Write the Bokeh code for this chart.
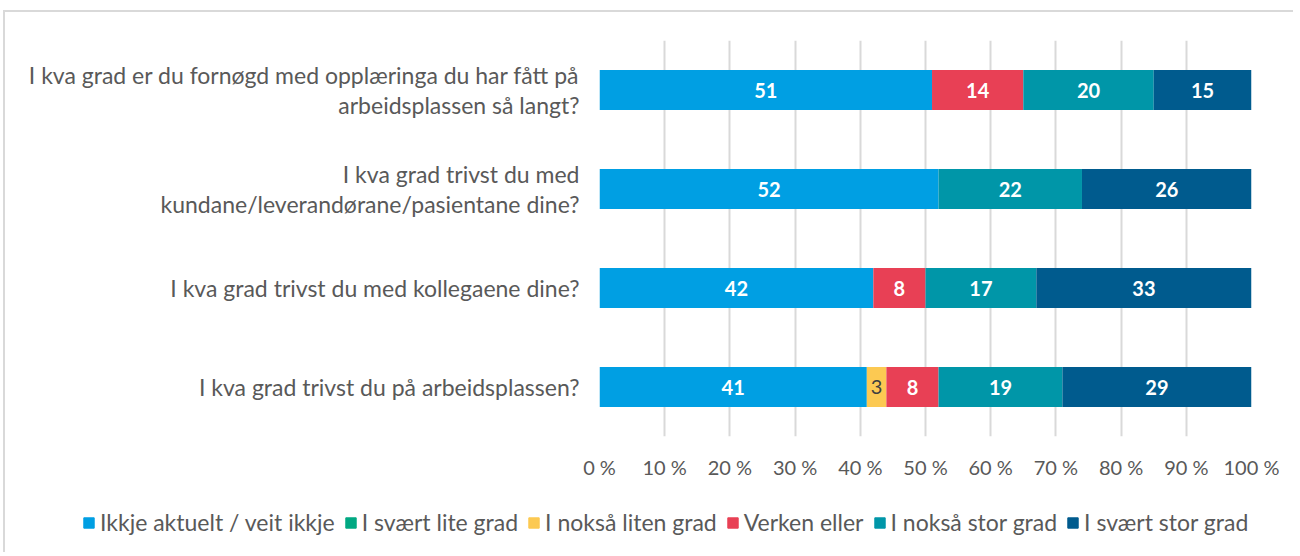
from bokeh.plotting import figure
from bokeh.models import ColumnDataSource, LabelSet, Legend, FactorRange, FixedTicker, CustomJSTickFormatter
from bokeh.embed import file_html
from bokeh.resources import INLINE
from bokeh.core.properties import value

questions = [
    "I kva grad er du fornøgd med opplæringa du har fått på\narbeidsplassen så langt?",
    "I kva grad trivst du med\nkundane/leverandørane/pasientane dine?",
    "I kva grad trivst du med kollegaene dine?",
    "I kva grad trivst du på arbeidsplassen?",
]
series = ["Ikkje aktuelt / veit ikkje", "I svært lite grad", "I nokså liten grad",
          "Verken eller", "I nokså stor grad", "I svært stor grad"]
colors = ["#009FE3", "#00A882", "#FCC952", "#E84055", "#0096A8", "#005B8E"]
ikkje_aktuelt = [51, 52, 42, 41]
svaert_lite = [0, 0, 0, 0]
nokso_liten = [0, 0, 0, 3]
verken_eller = [14, 0, 8, 8]
nokso_stor = [20, 22, 17, 19]
svaert_stor = [15, 26, 33, 29]
x_ticks = [0, 10, 20, 30, 40, 50, 60, 70, 80, 90, 100]

values = [ikkje_aktuelt, svaert_lite, nokso_liten, verken_eller, nokso_stor, svaert_stor]
keys = ["s%d" % i for i in range(len(series))]
data = {"q": questions}
for k, v in zip(keys, values):
    data[k] = v
src = ColumnDataSource(data)

FONT = "Lato"
BORDER = {"margin-top": "10px", "margin-left": "3px",
          "border-top": "2px solid #D9D9D9", "border-left": "2px solid #D9D9D9"}

p = figure(width=1290, height=469, output_backend="svg", toolbar_location=None,
           y_range=FactorRange(*reversed(questions)), x_range=(0, 100),
           min_border_left=594, min_border_right=44, min_border_top=28, min_border_bottom=31)
p.styles = BORDER

renderers = p.hbar_stack(keys, y="q", height=0.405, color=colors, source=src, line_color=None)

# data labels
lx, ly, lt, lc, lw = [], [], [], [], []
for qi, q in enumerate(questions):
    cum = 0
    for si in range(len(series)):
        v = values[si][qi]
        if v > 0:
            lx.append(cum + v / 2)
            ly.append(q)
            lt.append(str(v))
            lc.append("#404040" if si == 2 else "white")
            lw.append("normal" if si == 2 else "bold")
        cum += v
lsrc = ColumnDataSource(dict(x=lx, y=ly, t=lt, c=lc, w=lw))
p.add_layout(LabelSet(x="x", y="y", text="t", source=lsrc, text_align="center", text_baseline="middle",
                      text_color="c", text_font_style="w", text_font_size="20px", text_font=value(FONT)))

p.xaxis.ticker = FixedTicker(ticks=x_ticks)
p.xaxis.formatter = CustomJSTickFormatter(code="return tick + ' %';")
for ax in (p.xaxis, p.yaxis):
    ax.axis_line_color = None
    ax.major_tick_line_color = None
    ax.minor_tick_line_color = None
    ax.major_label_text_color = "#595959"
    ax.major_label_text_font = FONT
p.xaxis.major_label_text_font_size = "20px"
p.yaxis.major_label_text_font_size = "23px"
p.yaxis.major_label_text_line_height = 1.1
p.xaxis.major_label_standoff = 12
p.yaxis.major_label_standoff = 14

p.xgrid.grid_line_color = "#D9D9D9"
p.xgrid.grid_line_width = 2
p.ygrid.grid_line_color = None
p.outline_line_color = None

# legend in a strip below the chart
p2 = figure(width=1290, height=73, output_backend="svg", toolbar_location=None,
            x_range=(0, 1), y_range=(0, 1), min_border=0)
p2.styles = {"margin-left": "3px", "border-left": "2px solid #D9D9D9"}
p2.axis.visible = False
p2.grid.grid_line_color = None
p2.outline_line_color = None
leg_r = [p2.rect(x=[-5], y=[-5], width=1, height=1, color=c) for c in colors]
legend = Legend(items=[(s, [r]) for s, r in zip(series, leg_r)], orientation="horizontal",
                location=(77, 16), label_text_font=FONT, label_text_font_size="23px",
                label_text_color="#595959", glyph_width=13, glyph_height=13, label_standoff=5,
                spacing=9, border_line_color=None, background_fill_alpha=0, padding=0, margin=0)
p2.add_layout(legend)

open("out.html", "w").write(file_html([p, p2], INLINE))
